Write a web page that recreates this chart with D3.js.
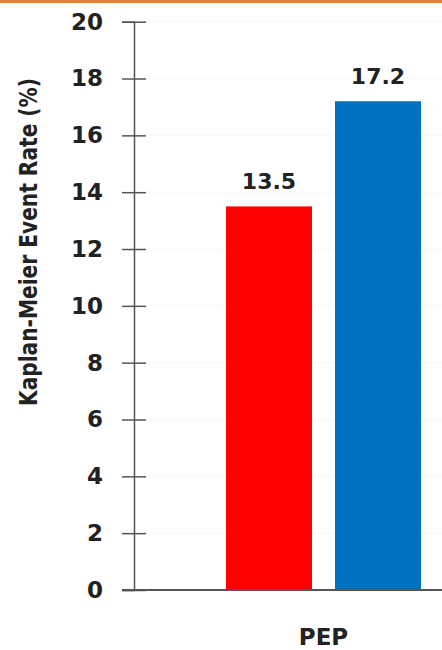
<!DOCTYPE html>
<html>
<head>
<meta charset="utf-8">
<script src="https://cdn.jsdelivr.net/npm/d3@7"></script>
<style>
html,body{margin:0;padding:0;background:#fff;}
svg{display:block;}
</style>
</head>
<body>
<svg id="chart" width="442" height="650"></svg>
<script>
const categories = ["PEP"];
const seriesNames = ["Group A", "Group B"];
const seriesValues = [13.5, 17.2];
const seriesColors = ["#ff0000", "#0070c0"];
const yTicks = [0, 2, 4, 6, 8, 10, 12, 14, 16, 18, 20];
const yTitle = "Kaplan-Meier Event Rate (%)";

const svg = d3.select("#chart");
const font = "'DejaVu Sans', sans-serif";

// top orange rule
svg.append("rect").attr("x", 0).attr("y", 0).attr("width", 442).attr("height", 3).attr("fill", "#ed7d31");

const axisX = 134;
const y = d3.scaleLinear().domain([0, 20]).range([590, 21.7]);
const x0 = d3.scaleBand().domain(categories).range([axisX, 513]).paddingInner(0).paddingOuter(0.472);
const x1 = d3.scaleBand().domain(seriesNames).range([0, x0.bandwidth()]).paddingInner(0.211).paddingOuter(0);

// very faint gridlines
svg.append("g").selectAll("line").data(yTicks.filter(d => d > 0)).join("line")
  .attr("x1", axisX).attr("x2", 442)
  .attr("y1", d => y(d)).attr("y2", d => y(d))
  .attr("stroke", "#f8f8f8").attr("stroke-width", 1);

// y axis
const yAxis = d3.axisLeft(y).tickValues(yTicks).tickSize(12).tickPadding(19).tickFormat(d3.format("d"));
const gy = svg.append("g").attr("transform", `translate(${axisX},0)`).call(yAxis);
gy.select(".domain").attr("stroke", "#555").attr("stroke-width", 1.5);
gy.selectAll(".tick line").attr("stroke", "#555").attr("stroke-width", 1.5).attr("x2", -12).attr("x1", 12);
gy.selectAll(".tick text").attr("font-family", font).attr("font-size", 23).attr("font-weight", "bold").attr("fill", "#222");

// bars
const g = svg.append("g");
categories.forEach(cat => {
  const data = seriesNames.map((s, i) => ({s, v: seriesValues[i], c: seriesColors[i]}));
  g.selectAll(null).data(data).join("rect")
    .attr("x", d => x0(cat) + x1(d.s))
    .attr("y", d => y(d.v))
    .attr("width", x1.bandwidth())
    .attr("height", d => y(0) - y(d.v))
    .attr("fill", d => d.c);
  g.selectAll(null).data(data).join("text")
    .attr("x", d => x0(cat) + x1(d.s) + x1.bandwidth() / 2)
    .attr("y", d => y(d.v) - 17)
    .attr("text-anchor", "middle")
    .attr("font-family", font).attr("font-size", 22).attr("font-weight", "bold").attr("fill", "#222")
    .text(d => d.v.toFixed(1));
});

// baseline
svg.append("line").attr("x1", axisX - 12).attr("x2", 442).attr("y1", y(0)).attr("y2", y(0))
  .attr("stroke", "#555").attr("stroke-width", 2);

// category labels
svg.append("g").selectAll("text").data(categories).join("text")
  .attr("x", d => x0(d) + x0.bandwidth() / 2)
  .attr("y", 645)
  .attr("text-anchor", "middle")
  .attr("font-family", font).attr("font-size", 23).attr("font-weight", "bold").attr("fill", "#222")
  .text(d => d);

// y title
svg.append("text")
  .attr("transform", "translate(37,242) rotate(-90)")
  .attr("text-anchor", "middle")
  .attr("font-family", font).attr("font-size", 24).attr("font-weight", "bold").attr("fill", "#222")
  .attr("textLength", 328).attr("lengthAdjust", "spacingAndGlyphs")
  .text(yTitle);
</script>
</body>
</html>
